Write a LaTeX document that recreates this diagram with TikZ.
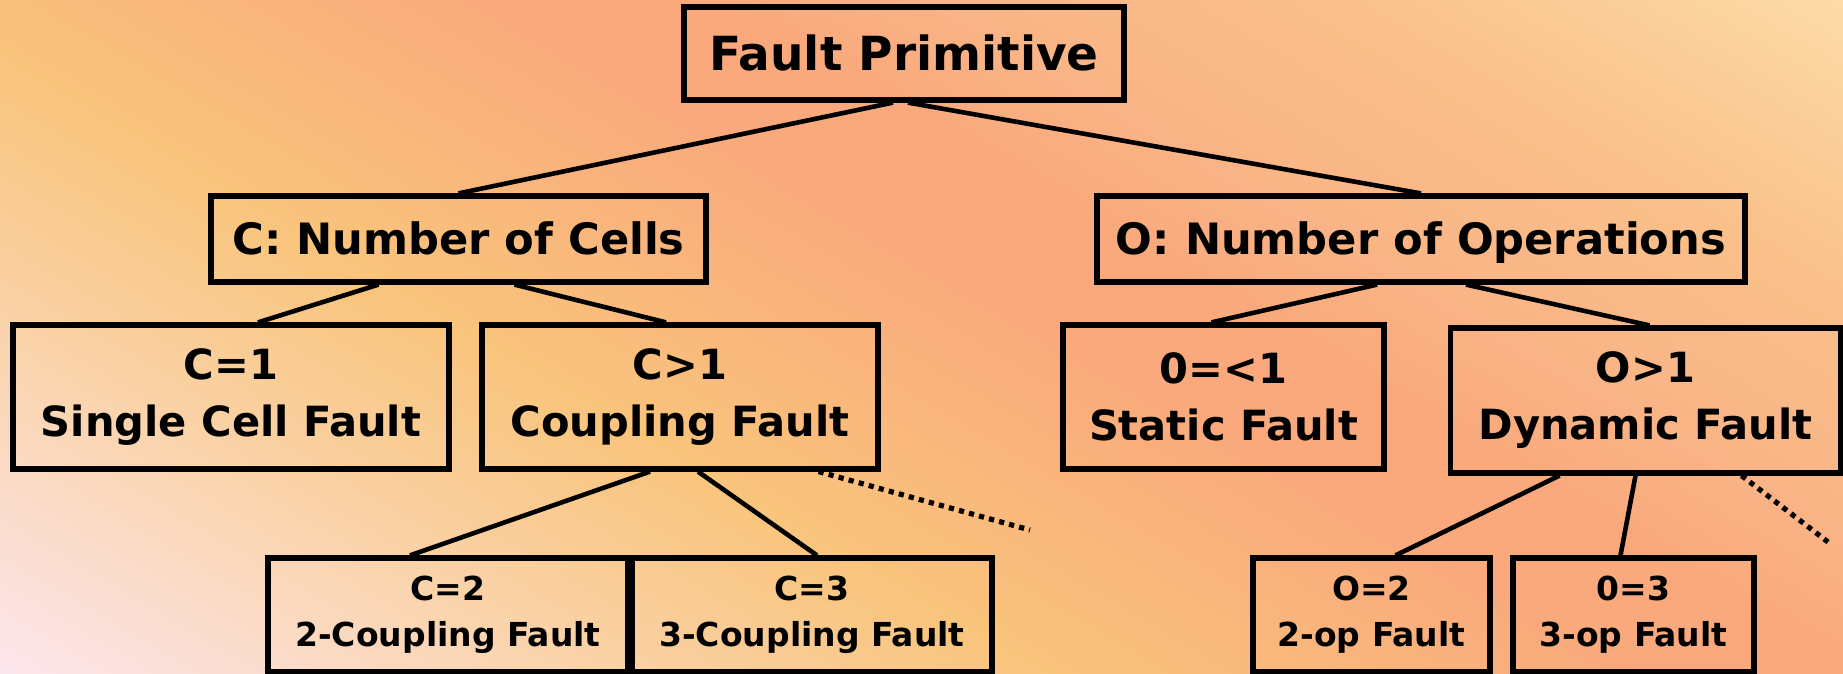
\documentclass[tikz,border=0pt]{standalone}
\usepackage{fontspec}
\setmainfont{DejaVu Sans}

\definecolor{bgpink}{HTML}{FCE6EE}
\definecolor{bglight}{HTML}{FAD2A6}
\definecolor{bgyellow}{HTML}{F9C47C}
\definecolor{bgsalmon}{HTML}{F9A97C}
\definecolor{bgorange}{HTML}{F9B486}
\definecolor{bgtan}{HTML}{FAC08A}
\definecolor{bgpeach}{HTML}{FCDCA8}

% stops between 25bp and 75bp are the ones stretched over the rectangle
\pgfdeclarehorizontalshading{slide}{100bp}{color(0bp)=(bgpink); color(25bp)=(bgpink); color(35.5bp)=(bglight); color(42.5bp)=(bgyellow); color(52.5bp)=(bgsalmon); color(56bp)=(bgsalmon); color(60bp)=(bgorange); color(66.5bp)=(bgtan); color(75bp)=(bgpeach); color(100bp)=(bgpeach)}

\tikzset{
	box/.style={draw, line width=2.6pt, align=center, inner sep=0pt},
	rootbox/.style={box, font=\bfseries\fontsize{23.5}{28}\selectfont, minimum height=46.5pt, text height=17pt, text depth=0pt},
	catbox/.style={box, font=\bfseries\fontsize{21.6}{26}\selectfont, minimum height=43pt, text height=15.5pt, text depth=0pt},
	kindbox/.style={box, font=\bfseries\fontsize{20.8}{28.5}\selectfont, minimum height=72pt},
	subbox/.style={box, font=\bfseries\fontsize{16.5}{23}\selectfont, minimum height=57pt},
	link/.style={line width=2.3pt},
	more/.style={line width=2.6pt, dash pattern=on 2.6pt off 2.6pt},
}

\begin{document}
\begin{tikzpicture}[x=0.5pt, y=-0.5pt]
	%%%%% BACKGROUND %%%%%
	\useasboundingbox (0, 0) rectangle (1843, 674);
	\begin{scope}
		\clip (0, 0) rectangle (1843, 674);
		\begin{scope}[transform canvas={shift={(700, 0)}, rotate=59.5}]
			\shade[shading=slide] (-940, -610) rectangle (585, 1330);
		\end{scope}
	\end{scope}
	
	%%%%% BOXES %%%%%
	\node[rootbox, minimum width=220pt] (fp) at (904, 53.5) {Fault Primitive};
	
	\node[catbox, minimum width=247.5pt] (cells) at (458.5, 239) {C: Number of Cells};
	\node[catbox, minimum width=324pt] (ops) at (1421, 239) {O: Number of Operations};
	
	\node[kindbox, minimum width=218pt] (c1) at (231, 397) {C=1\\Single Cell Fault};
	\node[kindbox, minimum width=198pt] (cg1) at (680, 397) {C>1\\Coupling Fault};
	\node[kindbox, minimum width=160.5pt] (o1) at (1223.5, 397) {0=<1\\Static Fault};
	\node[kindbox, minimum width=195pt, minimum height=72.5pt] (og1) at (1645.5, 400.5) {O>1\\Dynamic Fault};
	
	\node[subbox, minimum width=180pt] (c2) at (448, 615) {C=2\\2-Coupling Fault};
	\node[subbox, minimum width=180pt] (c3) at (812, 615) {C=3\\3-Coupling Fault};
	\node[subbox, minimum width=118.5pt] (o2) at (1371.5, 615) {O=2\\2-op Fault};
	\node[subbox, minimum width=120.5pt] (o3) at (1633.5, 615) {0=3\\3-op Fault};
	
	\coordinate (cgmore) at (1030, 530);
	\coordinate (ogmore) at (1828, 542);
	
	%%%%% LINKS %%%%%
	\draw[link] ([xshift=-5.5pt]fp.south) -- (cells.north);
	\draw[link] ([xshift=2pt]fp.south) -- (ops.north);
	
	\draw[link] ([xshift=-40pt]cells.south) -- ([xshift=13.5pt]c1.north);
	\draw[link] ([xshift=28pt]cells.south) -- ([xshift=-7pt]cg1.north);
	\draw[link] ([xshift=-22pt]ops.south) -- ([xshift=-6pt]o1.north);
	\draw[link] ([xshift=22.5pt]ops.south) -- ([xshift=2pt]og1.north);
	
	\draw[link] ([xshift=-15pt]cg1.south) -- ([xshift=-19pt]c2.north);
	\draw[link] ([xshift=9pt]cg1.south) -- ([xshift=2.5pt]c3.north);
	\draw[more] ([xshift=-31pt]cg1.south east) -- (cgmore);
	
	\draw[link] ([xshift=-43pt]og1.south) -- ([xshift=12pt]o2.north);
	\draw[link] ([xshift=-5pt]og1.south) -- ([xshift=-6.5pt]o3.north);
	\draw[more] ([xshift=48pt]og1.south) -- (ogmore);
\end{tikzpicture}
\end{document}
